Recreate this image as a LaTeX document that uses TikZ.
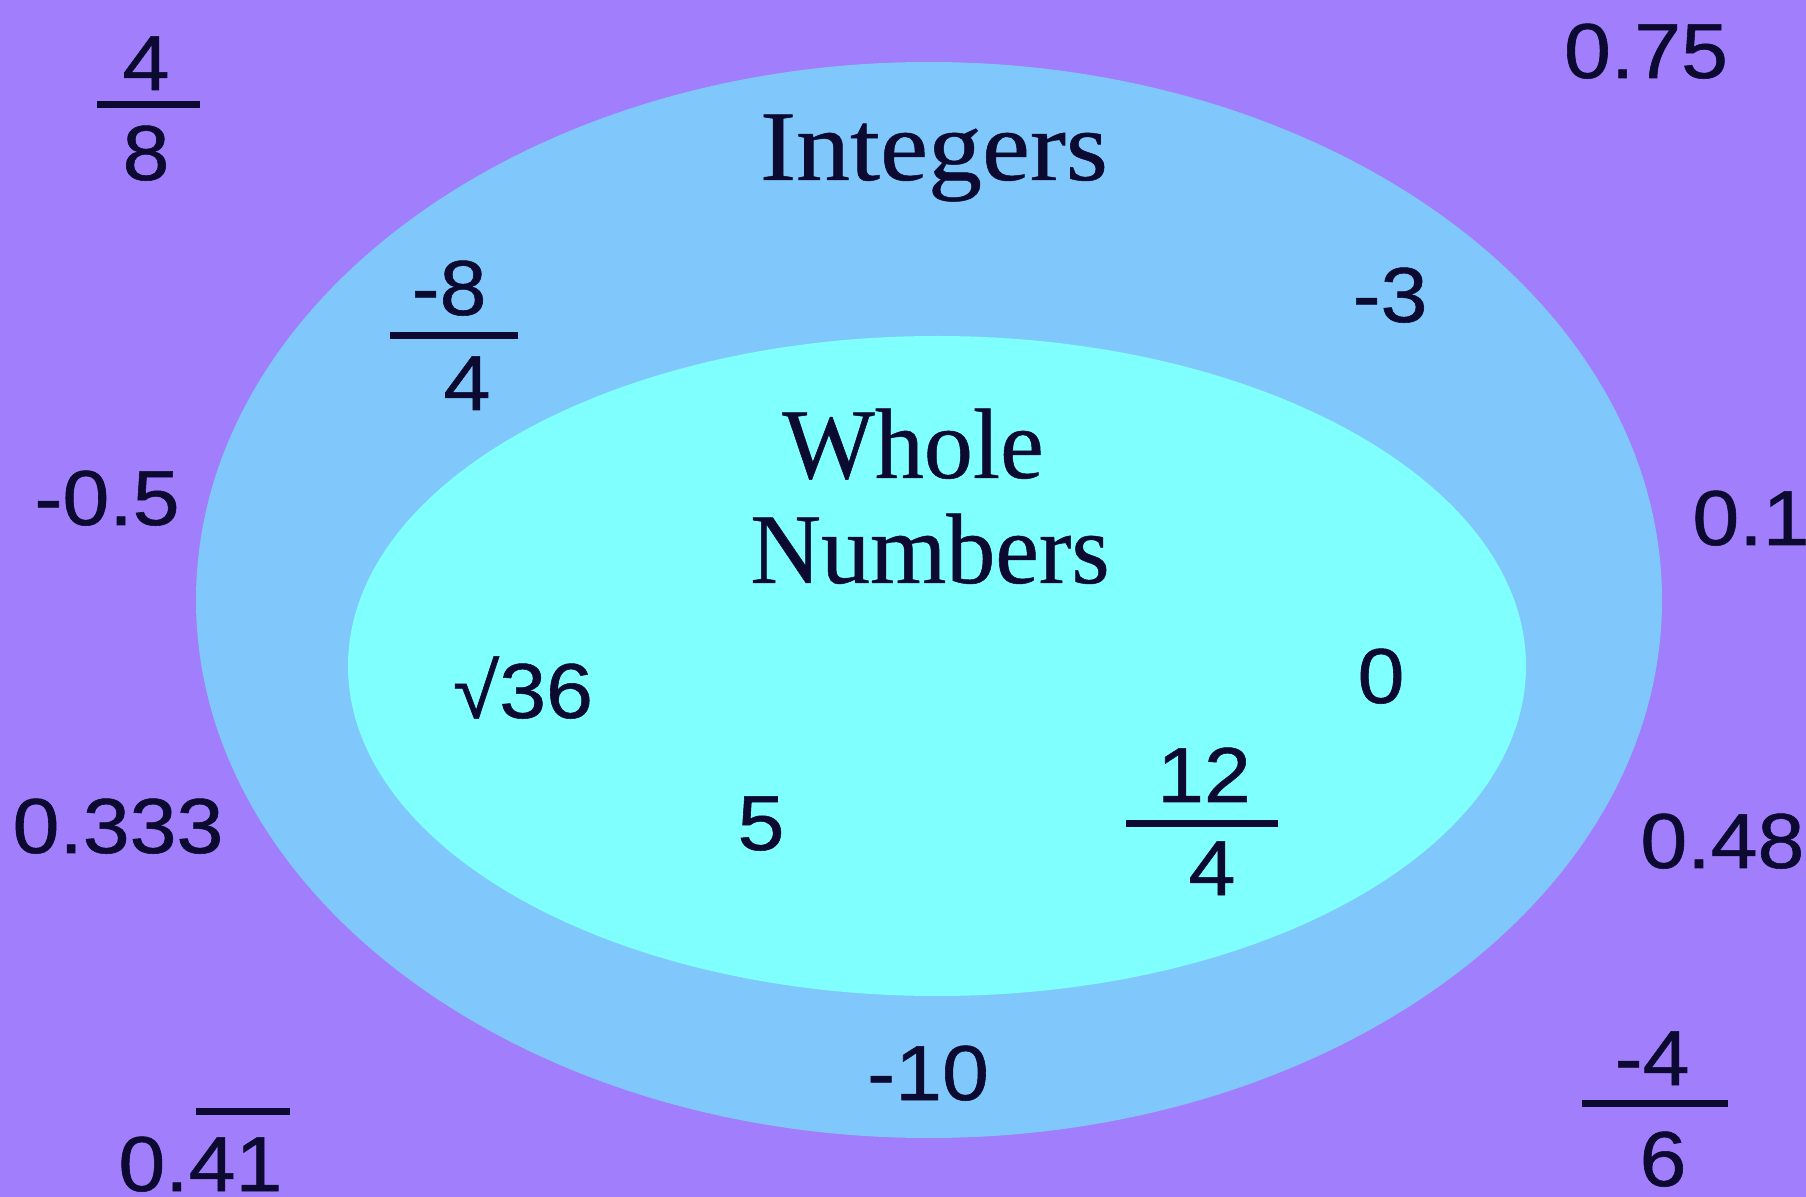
\documentclass[tikz,border=0pt]{standalone}
\usepackage{graphicx}
\usepackage{fontspec}
\setmainfont{Liberation Serif}
\newfontfamily\numfont[FakeBold=0.7]{Liberation Sans}
\newfontfamily\labelfont[FakeBold=0.5]{Liberation Serif}
\definecolor{bgpurple}{RGB}{160,126,252}
\definecolor{intblue}{RGB}{128,200,252}
\definecolor{wholecyan}{RGB}{128,255,255}
\definecolor{ink}{RGB}{12,10,48}
\newcommand\stretchnum[1]{\scalebox{1.08}[1]{#1}}
\newcommand\narrowlbl[1]{\scalebox{0.98}[1]{#1}}
\tikzset{
  num/.style={anchor=base, inner sep=0pt, text=ink, font=\numfont\fontsize{39}{39}\selectfont},
  numw/.style={num, anchor=base west},
  setlabel/.style={anchor=base, inner sep=0pt, text=ink, font=\labelfont\fontsize{50}{50}\selectfont},
  fracbar/.style={draw=ink, line width=3.5pt},
}
\begin{document}
\begin{tikzpicture}[x=0.5pt,y=-0.5pt]
\useasboundingbox (0,0) rectangle (1806,1197);
\clip (0,0) rectangle (1806,1197);
\fill[bgpurple] (0,0) rectangle (1806,1197);
% sets
\fill[intblue] (929,600) ellipse [x radius=733, y radius=538];
\fill[wholecyan] (937,666) ellipse [x radius=589, y radius=330];
% set labels
\node[setlabel] (integers) at (934,180) {\stretchnum{Integers}};
\node[setlabel] (whole) at (913,478) {\narrowlbl{Whole}};
\node[setlabel] (numbers) at (930,583) {\narrowlbl{Numbers}};
% outside numbers
\node[num] (n4a) at (146,90) {\stretchnum{4}};
\node[num] (n8a) at (146,180) {\stretchnum{8}};
\draw[fracbar] (97,105) coordinate (b1a) -- (200,105) coordinate (b1b);
\node[num] (n075) at (1646,78) {\stretchnum{0.75}};
\node[num] (nm05) at (107,525) {\stretchnum{-0.5}};
\node[numw] (n01) at (1692,545) {\stretchnum{0.1}};
\node[num] (n0333) at (118,853) {\stretchnum{0.333}};
\node[numw] (n048) at (1640,868) {\stretchnum{0.48}};
\node[num] (nm4) at (1652,1085) {\stretchnum{-4}};
\node[num] (n6) at (1663,1186) {\stretchnum{6}};
\draw[fracbar] (1582,1103) coordinate (b4a) -- (1728,1103) coordinate (b4b);
\node[numw] (n041) at (118,1191) {\stretchnum{0.41}};
\draw[fracbar] (196,1111) coordinate (ola) -- (290,1111) coordinate (olb);
% integers ring
\node[num] (nm8) at (449,315) {\stretchnum{-8}};
\node[num] (n4b) at (467,410) {\stretchnum{4}};
\draw[fracbar] (390,336) coordinate (b2a) -- (518,336) coordinate (b2b);
\node[num] (nm3) at (1390,322) {\stretchnum{-3}};
\node[num] (nm10) at (928,1100) {\stretchnum{-10}};
% whole numbers
\node[num] (nsqrt) at (523,718) {\stretchnum{√36}};
\node[num] (n5) at (761,850) {\stretchnum{5}};
\node[num] (n0) at (1381,703) {\stretchnum{0}};
\node[num] (n12) at (1204,802) {\stretchnum{12}};
\node[num] (n4c) at (1212,895) {\stretchnum{4}};
\draw[fracbar] (1126,824) coordinate (b3a) -- (1278,824) coordinate (b3b);
\end{tikzpicture}
\end{document}
